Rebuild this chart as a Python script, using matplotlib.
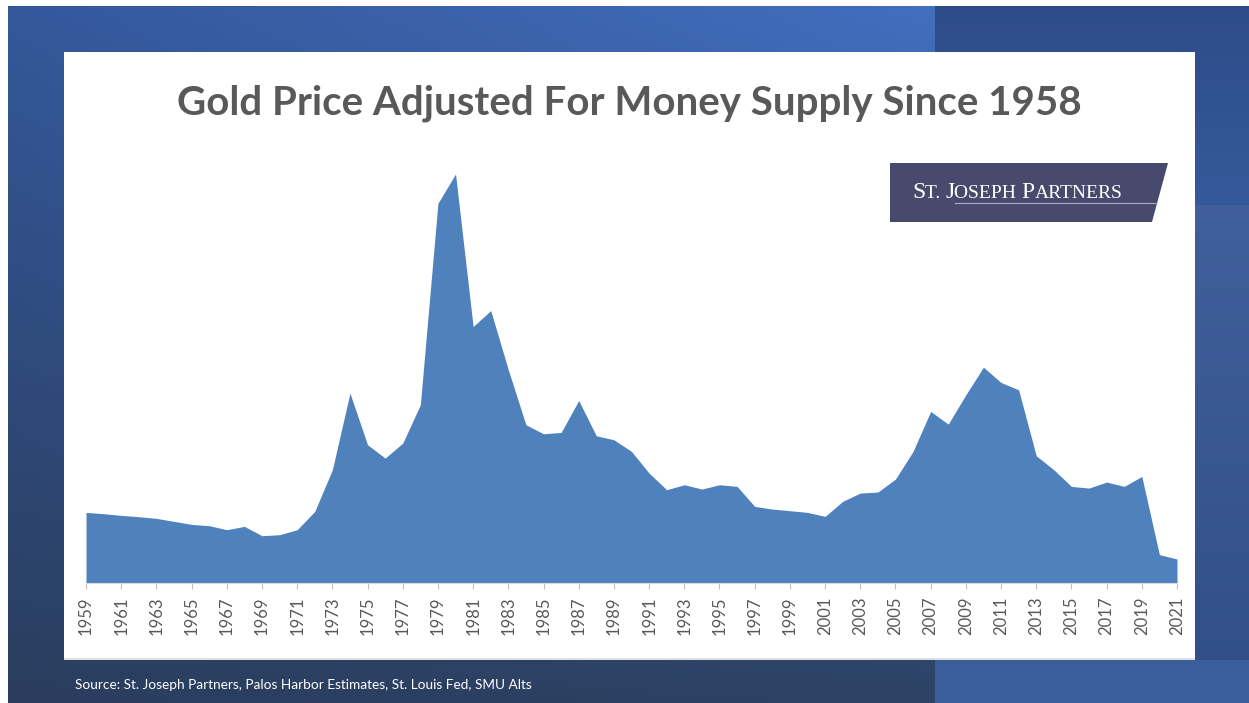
import numpy as np
from matplotlib import pyplot as plt
from matplotlib.patches import Polygon

# data (relative units, no y axis in the original)
years = list(range(1959, 2022))
values = [212, 208, 203, 199, 194, 185, 176, 172, 160, 170,
          142, 145, 160, 215, 340, 570, 415, 375, 420, 535,
          1140, 1228, 770, 818, 640, 475, 448, 452, 548, 442,
          430, 395, 330, 280, 295, 282, 295, 290, 230, 222,
          217, 212, 200, 245, 270, 273, 312, 395, 515, 477,
          565, 648, 602, 580, 382, 340, 290, 285, 303, 290,
          320, 85, 72]
tick_years = years[::2]

title = "Gold Price Adjusted For Money Supply Since 1958"
source = "Source: St. Joseph Partners, Palos Harbor Estimates, St. Louis Fed, SMU Alts"

W, H = 1249, 703


def px(x, y):
    return (x / W, 1 - y / H)


def hex2rgb(h):
    h = h.lstrip('#')
    return np.array([int(h[i:i + 2], 16) for i in (0, 2, 4)]) / 255.0


# slide background
bgimg = np.ones((H, W, 3))
yy, xx = np.mgrid[0:H, 0:W]
tl, tr = hex2rgb('#34589b'), hex2rgb('#436fc0')
bl, br = hex2rgb('#2a3d5d'), hex2rgb('#2d4264')
fx = np.clip(xx / 935, 0, 1)[..., None]
fy = np.clip(yy / H, 0, 1)[..., None]
grad = (tl * (1 - fx) + tr * fx) * (1 - fy) + (bl * (1 - fx) + br * fx) * fy
bgimg[:] = grad
right = xx >= 935
top_blk = right & (yy < 205)
c_a, c_b = hex2rgb('#2d4c87'), hex2rgb('#35599b')
bgimg[top_blk] = (c_a * (1 - fy[top_blk] * H / 205) + c_b * (fy[top_blk] * H / 205))
mid_blk = right & (yy >= 205) & (yy < 660)
bgimg[mid_blk] = hex2rgb('#4767a3') * (1 - fy[mid_blk]) + hex2rgb('#304f88') * fy[mid_blk]
bot_blk = right & (yy >= 660)
bgimg[bot_blk] = hex2rgb('#3b5d9c')
bgimg[(yy < 6) | (xx < 8)] = 1.0
bgimg[(yy >= 52) & (yy < 660) & (xx >= 64) & (xx < 1195)] = 1.0
bgimg[(yy >= 658) & (yy < 660) & (xx >= 64) & (xx < 1195)] = hex2rgb('#e0e0e0')

fig = plt.figure(figsize=(W / 100, H / 100), dpi=100)
bg = fig.add_axes([0, 0, 1, 1])
bg.imshow(bgimg, aspect='auto', interpolation='bilinear')
bg.axis('off')

ax = fig.add_axes([86 / W, (H - 583) / H, (1177 - 86) / W, (583 - 160) / H])
ax.patch.set_alpha(0)
ax.fill_between(years, values, color='#4f81bd', linewidth=0)
ax.set_xlim(1959, 2021)
ax.set_ylim(0, 1270)
ax.set_yticks([])
for s in ['top', 'left', 'right']:
    ax.spines[s].set_visible(False)
ax.spines['bottom'].set_color('#d9d9d9')
ax.set_xticks(tick_years)
ax.set_xticklabels([str(y) for y in tick_years], rotation=90, fontsize=12,
                   color='#595959', family='Lato')
ax.tick_params(axis='x', length=4, color='#bfbfbf', pad=6)

fig.text(*px(629, 103), title, ha='center', va='center', fontsize=29,
         fontweight='bold', color='#595959', family='Lato')

# logo block
logo = Polygon([px(890, 163), px(1168, 163), px(1152, 222), px(890, 222)],
               closed=True, transform=fig.transFigure, facecolor='#474a6d',
               edgecolor='none')
fig.patches.append(logo)

pieces = [("S", 17), ("T. ", 14), ("J", 17), ("OSEPH ", 14), ("P", 17), ("ARTNERS", 14)]
renderer = fig.canvas.get_renderer()
x0 = 912
for txt, size in pieces:
    t = fig.text(*px(x0, 198), txt, ha='left', va='baseline', fontsize=size,
                 color='white', family='Liberation Serif')
    x0 += t.get_window_extent(renderer).width
fig.add_artist(plt.Line2D([955 / W, 1157 / W], [1 - 203 / H, 1 - 203 / H],
                          color='#a9abc4', lw=0.8))

fig.text(*px(75, 685), source, ha='left', va='center', fontsize=9.8,
         color='white', family='Lato')

plt.savefig('out.png', dpi=100)
